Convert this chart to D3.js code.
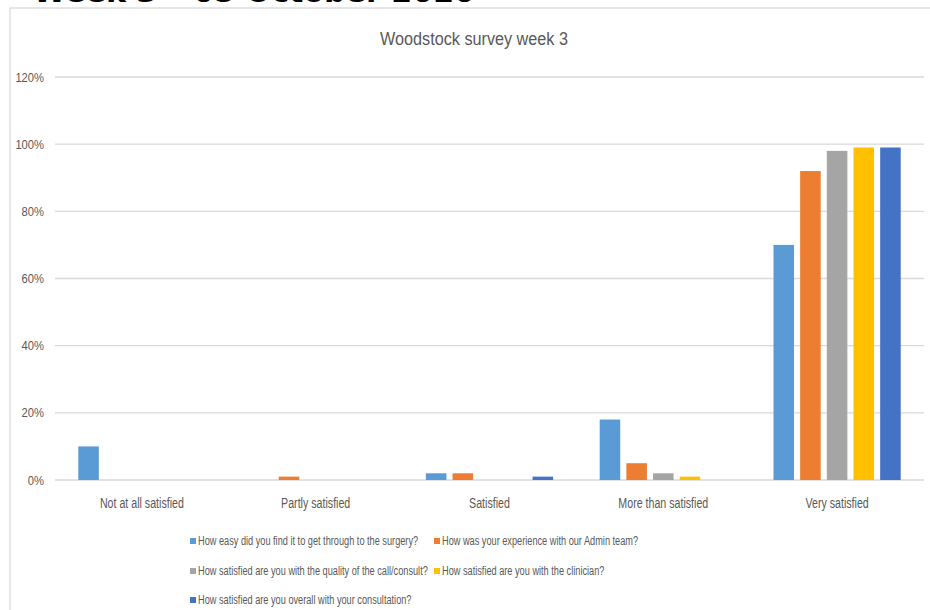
<!DOCTYPE html>
<html>
<head>
<meta charset="utf-8">
<script src="https://cdn.jsdelivr.net/npm/d3@7"></script>
<style>
  body { margin: 0; background: #fff; }
  text { font-family: "Liberation Sans", Arial, sans-serif; }
</style>
</head>
<body>
<svg id="chart" width="930" height="610"></svg>
<script>
// survey answers (percent of respondents)
var categories = ["Not at all satisfied", "Partly satisfied", "Satisfied", "More than satisfied", "Very satisfied"];
var questions = [
    "How easy did you find it to get through to the surgery?",
    "How was your experience with our Admin team?",
    "How satisfied are you with the quality of the call/consult?",
    "How satisfied are you with the clinician?",
    "How satisfied are you overall with your consultation?"
];
var easyAccess = [10, 0, 2, 18, 70];
var adminTeam = [0, 1, 2, 5, 92];
var callQuality = [0, 0, 0, 2, 98];
var clinician = [0, 0, 0, 1, 99];
var overall = [0, 0, 1, 0, 99];
var yTicks = [0, 0.2, 0.4, 0.6, 0.8, 1.0, 1.2];
var colors = ["#5b9bd5", "#ed7d31", "#a5a5a5", "#ffc000", "#4472c4"];

var seriesValues = [easyAccess, adminTeam, callQuality, clinician, overall];

// make text narrower like the squashed screenshot
function squeeze(sel, k) {
    sel.each(function () {
        var w = this.getComputedTextLength();
        d3.select(this).attr("textLength", w * k).attr("lengthAdjust", "spacingAndGlyphs");
    });
}

var svg = d3.select("#chart");

// page heading, mostly cut off at the top
var head = svg.append("text")
    .attr("x", 33).attr("y", 2)
    .style("font-family", "DejaVu Sans")
    .style("font-size", "30px")
    .style("font-weight", "bold")
    .attr("fill", "#000")
    .text("Week 3 \u2013 05 October 2020");
head.attr("textLength", 442).attr("lengthAdjust", "spacingAndGlyphs");

// chart frame
svg.append("rect")
    .attr("x", 10).attr("y", 8)
    .attr("width", 940).attr("height", 620)
    .attr("fill", "#fff")
    .attr("stroke", "#d9d9d9")
    .attr("stroke-width", 1.3);

var plotLeft = 55, plotRight = 924, plotTop = 77, plotBottom = 480;

var x0 = d3.scaleBand()
    .domain(categories)
    .range([plotLeft, plotRight]);

var groupW = x0.bandwidth() * 0.732;
var x1 = d3.scaleBand()
    .domain(d3.range(questions.length))
    .range([0, groupW])
    .paddingInner(0.23);

var y = d3.scaleLinear()
    .domain([0, 1.2])
    .range([plotBottom, plotTop]);

// gridlines
svg.append("g")
    .selectAll("line")
    .data(yTicks)
    .enter().append("line")
    .attr("x1", plotLeft).attr("x2", plotRight)
    .attr("y1", d => y(d)).attr("y2", d => y(d))
    .attr("stroke", "#d9d9d9")
    .attr("stroke-width", 1.4);

// y labels
var yl = svg.append("g")
    .selectAll("text")
    .data(yTicks)
    .enter().append("text")
    .attr("x", 44)
    .attr("y", d => y(d))
    .attr("dy", "0.35em")
    .attr("text-anchor", "end")
    .attr("fill", "#595959")
    .style("font-size", "13px")
    .text(d3.format(".0%"));
squeeze(yl, 0.86);

// bars
var groups = svg.append("g")
    .selectAll("g")
    .data(categories)
    .enter().append("g")
    .attr("transform", d => "translate(" + (x0(d) + (x0.bandwidth() - groupW) / 2) + ",0)");

groups.selectAll("rect")
    .data((c, ci) => seriesValues.map((vals, si) => ({s: si, v: vals[ci] / 100})))
    .enter().append("rect")
    .attr("x", d => x1(d.s))
    .attr("width", x1.bandwidth())
    .attr("y", d => y(d.v))
    .attr("height", d => y(0) - y(d.v))
    .attr("fill", d => colors[d.s]);

// category labels
var xl = svg.append("g")
    .selectAll("text")
    .data(categories)
    .enter().append("text")
    .attr("x", d => x0(d) + x0.bandwidth() / 2)
    .attr("y", 508)
    .attr("text-anchor", "middle")
    .attr("fill", "#595959")
    .style("font-size", "14px")
    .text(d => d);
squeeze(xl, 0.76);

// title
var title = svg.append("text")
    .attr("x", 474).attr("y", 45)
    .attr("text-anchor", "middle")
    .attr("fill", "#595959")
    .style("font-size", "18px")
    .text("Woodstock survey week 3");
squeeze(title, 0.9);

// legend, two columns
var colX = [190, 434], rowY = [541, 571, 600];
var leg = svg.append("g")
    .selectAll("g")
    .data(questions)
    .enter().append("g")
    .attr("transform", (d, i) => "translate(" + colX[i % 2] + "," + rowY[Math.floor(i / 2)] + ")");
leg.append("rect")
    .attr("x", 0).attr("y", -3)
    .attr("width", 6).attr("height", 6)
    .attr("fill", (d, i) => colors[i]);
var lt = leg.append("text")
    .attr("x", 8)
    .attr("dy", "0.35em")
    .attr("fill", "#595959")
    .style("font-size", "12.5px")
    .text(d => d);
squeeze(lt, 0.735);
</script>
</body>
</html>
